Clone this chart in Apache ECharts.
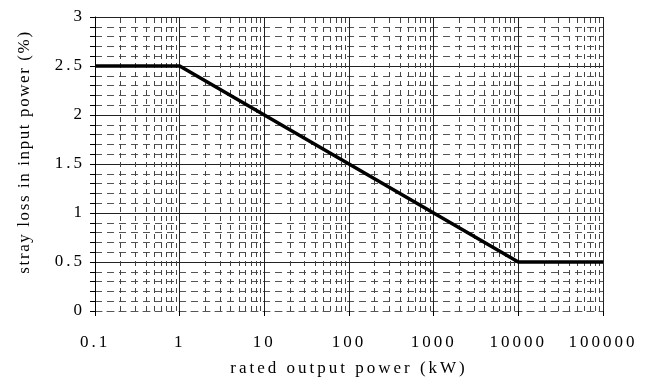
<!DOCTYPE html>
<html>
<head>
<meta charset="utf-8">
<script src="https://cdn.jsdelivr.net/npm/echarts@6/dist/echarts.min.js"></script>
<style>
html,body{margin:0;padding:0;background:#fff;}
#chart{width:652px;height:383px;}
</style>
</head>
<body>
<div id="chart"></div>
<script>
// Data
var powerKW = [0.1, 1, 10, 100, 1000, 10000, 100000];
var strayLoss = [2.5, 2.5, 2.0, 1.5, 1.0, 0.5, 0.5];
var xTickLabels = ['0.1', '1', '10', '100', '1000', '10000', '100000'];
var yTickLabels = ['0', '0.5', '1', '1.5', '2', '2.5', '3'];
var minorXMultipliers = [2, 3, 4, 5, 6, 7, 8, 9];
var decades = [0.1, 1, 10, 100, 1000, 10000];
var xName = 'rated output power (kW)';
var yName = 'stray loss in input power (%)';

var minorX = [];
decades.forEach(function (d) {
  minorXMultipliers.forEach(function (m) { minorX.push(+(d * m).toPrecision(6)); });
});

// letter spacing for canvas text (as in the reference's spaced-out typography)
(function () {
  var proto = CanvasRenderingContext2D.prototype;
  var origFill = proto.fillText;
  proto.fillText = function (txt) {
    try { this.letterSpacing = (txt === yName) ? '1.6px' : '3px'; } catch (e) {}
    var r = origFill.apply(this, arguments);
    try { this.letterSpacing = '0px'; } catch (e) {}
    return r;
  };
})();

var font = 'Liberation Serif';
var chart = echarts.init(document.getElementById('chart'), null, { renderer: 'canvas' });

chart.setOption({
  animation: false,
  backgroundColor: '#fff',
  grid: { left: 95, right: 49, top: 17, bottom: 72, containLabel: false },
  xAxis: {
    type: 'log',
    logBase: 10,
    min: 0.1,
    max: 100000,
    name: xName,
    nameLocation: 'middle',
    nameGap: 49,
    nameTextStyle: { fontFamily: font, fontSize: 17, color: '#000' },
    axisLine: { show: true, lineStyle: { color: '#555', width: 1, type: [7, 5] } },
    axisTick: { show: true, length: 5, lineStyle: { color: '#000', width: 1 } },
    minorTick: { show: false },
    axisLabel: {
      fontFamily: font, fontSize: 17, color: '#000', margin: 23,
      formatter: function (v, i) { return xTickLabels[i] !== undefined ? xTickLabels[i] : ''; }
    },
    splitLine: { show: true, lineStyle: { color: '#222', width: 1 } }
  },
  yAxis: {
    type: 'value',
    min: 0,
    max: 3,
    interval: 0.5,
    name: yName,
    nameLocation: 'middle',
    nameGap: 62,
    nameTextStyle: { fontFamily: font, fontSize: 17, color: '#000', padding: [0, 0, 0, 24] },
    axisLine: { show: true, lineStyle: { color: '#000', width: 1 } },
    axisTick: { show: true, length: 5, lineStyle: { color: '#000', width: 1 } },
    minorTick: { show: true, splitNumber: 5, length: 5, lineStyle: { color: '#000', width: 1 } },
    axisLabel: {
      fontFamily: font, fontSize: 17, color: '#000', margin: 10,
      formatter: function (v, i) { return yTickLabels[i] !== undefined ? yTickLabels[i] : ''; }
    },
    splitLine: { show: true, showMinLine: false, lineStyle: { color: '#222', width: 1 } },
    minorSplitLine: { show: true, lineStyle: { color: '#555', width: 1, type: [7, 5] } }
  },
  series: [
    {
      type: 'line',
      data: powerKW.map(function (x, i) { return [x, strayLoss[i]]; }),
      symbol: 'none',
      silent: true,
      z: 1,
      lineStyle: { opacity: 0 },
      markLine: {
        silent: true,
        symbol: 'none',
        label: { show: false },
        lineStyle: { color: '#444', width: 1, type: [5, 4] },
        data: minorX.map(function (v) { return { xAxis: v }; })
      }
    },
    {
      type: 'line',
      data: powerKW.map(function (x, i) { return [x, strayLoss[i]]; }),
      symbol: 'none',
      z: 5,
      lineStyle: { color: '#000', width: 3.5 }
    }
  ]
});
</script>
</body>
</html>
